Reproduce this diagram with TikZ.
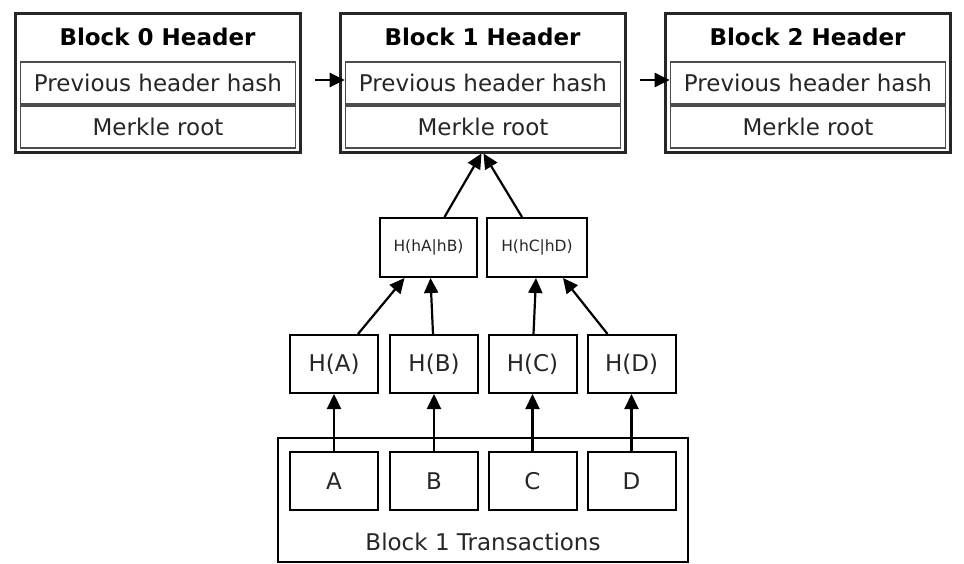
\documentclass[tikz,border=0pt]{standalone}
\usepackage{fontspec}
\setmainfont{DejaVu Sans}
\usetikzlibrary{arrows.meta,calc}
\begin{document}
\begin{tikzpicture}[x=0.5pt,y=-0.5pt,
  hdr/.style={draw=black!85,line width=1.5pt,minimum width=142.5pt,minimum height=69.5pt,inner sep=0pt},
  title/.style={font=\fontsize{11.5pt}{13pt}\selectfont\bfseries,inner sep=0pt},
  row/.style={draw=black!70,line width=0.8pt,minimum width=137.5pt,minimum height=21pt,inner sep=0pt,font=\fontsize{11.5pt}{13pt}\selectfont,text=black!85},
  hbox/.style={draw=black,line width=1pt,minimum width=44pt,minimum height=29pt,inner sep=0pt,font=\fontsize{11.5pt}{13pt}\selectfont,text=black!85},
  sbox/.style={draw=black,line width=1pt,minimum height=29.5pt,inner sep=0pt,font=\fontsize{7.75pt}{9pt}\selectfont,text=black!85},
  arr/.style={-{Triangle[length=7.5pt,width=7pt]},line width=1.1pt,black}]
\useasboundingbox (0,0) rectangle (964,563);
\fill[white] (0,0) rectangle (964,563);
% headers
\foreach \i/\cx in {0/157.5,1/482.5,2/807.5}{
  \node[hdr] (b\i) at (\cx,82.5) {};
  \node[title] (t\i) at (\cx,37) {Block \i{} Header};
  \node[row] (p\i) at (\cx+0.5,83) {Previous header hash};
  \node[row] (m\i) at (\cx+0.5,127) {Merkle root};
}
\draw[arr,shorten <=9.5pt] ([yshift=1.5pt]p0.east) -- ([yshift=1.5pt]p1.west);
\draw[arr,shorten <=9.5pt] ([yshift=1.5pt]p1.east) -- ([yshift=1.5pt]p2.west);
% intermediate hashes
\node[sbox,minimum width=48.5pt] (hab) at (428.5,247.5) {H(hA|hB)};
\node[sbox,minimum width=50pt] (hcd) at (537,247.5) {H(hC|hD)};
% leaf hashes
\node[hbox] (ha) at (334,364) {H(A)};
\node[hbox] (hb) at (434,364) {H(B)};
\node[hbox] (hc) at (532.5,364) {H(C)};
\node[hbox] (hd) at (631.5,364) {H(D)};
% transactions
\node[draw=black,line width=1pt,minimum width=205pt,minimum height=62pt,inner sep=0pt] (txs) at (483,500) {};
\node[font=\fontsize{11.5pt}{13pt}\selectfont,text=black!85,inner sep=0pt] (txl) at (483,542) {Block 1 Transactions};
\node[hbox] (ta) at (334,481) {A};
\node[hbox] (tb) at (434,481) {B};
\node[hbox] (tc) at (532.5,481) {C};
\node[hbox] (td) at (631.5,481) {D};
% arrows
\draw[arr] (ta.north) -- (ha.south);
\draw[arr] (tb.north) -- (hb.south);
\draw[arr] (tc.north) -- (hc.south);
\draw[arr] (td.north) -- (hd.south);
\draw[arr] ([xshift=12pt]ha.north) -- ([xshift=-12pt]hab.south);
\draw[arr] ([xshift=-0.5pt]hb.north) -- ([xshift=1pt]hab.south);
\draw[arr] ([xshift=0.5pt]hc.north) -- ([xshift=-0.5pt]hcd.south);
\draw[arr] ([xshift=-12pt]hd.north) -- ([xshift=13pt]hcd.south);
\draw[arr] ([xshift=8pt]hab.north) -- ([xshift=-0.5pt]b1.south);
\draw[arr] ([xshift=-7.5pt]hcd.north) -- ([xshift=0.5pt]b1.south);
\end{tikzpicture}
\end{document}
